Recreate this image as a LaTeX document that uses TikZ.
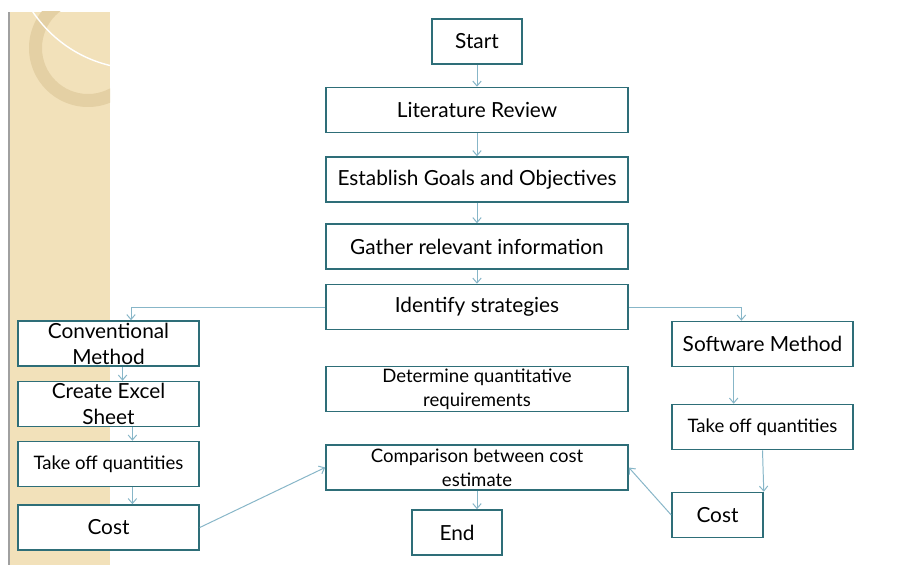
\documentclass[tikz,border=0pt]{standalone}
\usepackage{fontspec}
\setmainfont{Lato}
\usetikzlibrary{arrows.meta,positioning,calc}
\definecolor{boxteal}{RGB}{46,110,120}
\definecolor{arrowblue}{RGB}{135,182,200}
\definecolor{stripbeige}{RGB}{242,225,186}
\definecolor{ringbeige}{RGB}{228,208,164}
\definecolor{stripgray}{RGB}{160,160,160}

\begin{document}
\begin{tikzpicture}[x=0.025cm,y=-0.025cm,
    box/.style={rectangle,draw=boxteal,line width=1.1pt,fill=white,align=center,inner sep=0pt,minimum height=1.125cm,font=\fontsize{14.8}{18.5}\selectfont},
    widebox/.style={box,minimum width=7.55cm},
    sidebox/.style={box,minimum width=4.525cm},
    endbox/.style={box,minimum width=2.25cm},
    smalltext/.style={font=\fontsize{13.2}{17}\selectfont},
    flow/.style={-{Straight Barb[length=3.5pt,width=6pt]},arrowblue,line width=0.7pt}]

    \useasboundingbox (0,0) rectangle (904,565);
    \fill[white] (0,0) rectangle (904,565);

    % Decorative strip (left)
    \fill[stripgray] (8,12) rectangle (10,565);
    \fill[stripbeige] (10,12) rectangle (110,565);
    \begin{scope}
        \clip (10,12) rectangle (110,565);
        \fill[ringbeige,even odd rule] (88,48) circle[radius=59] (88,48) circle[radius=46];
        \draw[white,line width=1pt] (140,-60) circle[radius=129];
    \end{scope}

    % Main column
    \node[endbox] (start) at (477,41.5) {Start};
    \node[widebox] (lit) at (477,110) {Literature Review};
    \node[widebox] (goals) at (477,179.5) {Establish Goals and Objectives};
    \node[widebox] (gather) at (477,246.5) {Gather relevant information};
    \node[widebox] (ident) at (477,307) {Identify strategies};
    \node[widebox,smalltext] (quant) at (477,389) {Determine quantitative\\requirements};
    \node[widebox,smalltext] (comp) at (477,467.5) {Comparison between cost\\estimate};
    \node[endbox] (finish) at (457,532.5) {End};

    % Conventional branch (left)
    \node[sidebox] (conv) at (108.5,343.5) {Conventional\\Method};
    \node[sidebox] (excel) at (108.5,404) {Create Excel\\Sheet};
    \node[sidebox,smalltext] (takeL) at (108.5,464) {Take off quantities};
    \node[sidebox] (costL) at (108.5,527.5) {Cost};

    % Software branch (right)
    \node[sidebox] (soft) at (762.5,344) {Software Method};
    \node[sidebox,smalltext] (takeR) at (762.5,427) {Take off quantities};
    \node[box,minimum width=2.275cm] (costR) at (717.5,515) {Cost};

    % Main flow arrows
    \draw[flow] (start) -- (lit);
    \draw[flow] (lit) -- (goals);
    \draw[flow] (goals) -- (gather);
    \draw[flow] (gather) -- (ident);
    \draw[flow] (comp.south) -- (comp.south |- finish.north);

    % Branch arrows
    \draw[flow] (ident.west) -| ([xshift=16pt]conv.north);
    \draw[flow] (ident.east) -| ([xshift=-15pt]soft.north);
    \draw[flow] ([xshift=10pt]conv.south) -- ([xshift=10pt]excel.north);
    \draw[flow] ([xshift=17pt]excel.south) -- ([xshift=17pt]takeL.north);
    \draw[flow] ([xshift=17pt]takeL.south) -- ([xshift=17pt]costL.north);
    \draw[flow] ([xshift=-20.5pt]soft.south) -- ([xshift=-20.5pt]takeR.north);
    \draw[flow] (takeR.south) -- (costR.north east);

    % Cost comparison
    \draw[flow] (costL.east) -- (comp.west);
    \draw[flow] (costR.west) -- (comp.east);
\end{tikzpicture}
\end{document}
